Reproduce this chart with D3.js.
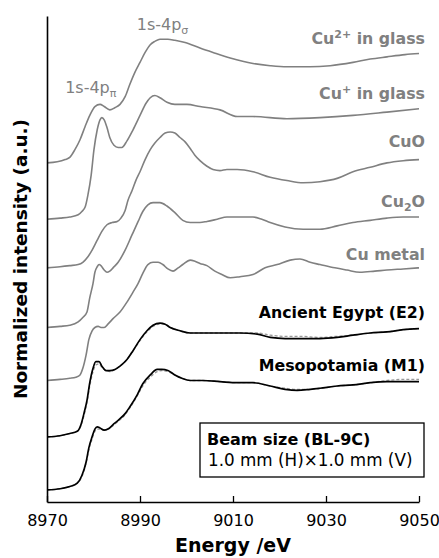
<!DOCTYPE html>
<html>
<head>
<meta charset="utf-8">
<script src="https://cdn.jsdelivr.net/npm/d3@7"></script>
<style>
  html, body { margin: 0; padding: 0; background: #fff; }
  svg { display: block; font-family: "DejaVu Sans", Verdana, sans-serif; }
</style>
</head>
<body>
<svg id="chart" width="439" height="558"></svg>
<script>
// ---------- data ----------
const energyTicks = [8970, 8990, 9010, 9030, 9050];

const seriesNames = ["Cu2+ in glass", "Cu+ in glass", "CuO", "Cu2O", "Cu metal", "Ancient Egypt (E2)", "Mesopotamia (M1)"];
const seriesOffsets = [3.06, 2.56, 2.12, 1.58, 1.10, 0.58, 0.10];
const seriesKinds = ["ref", "ref", "ref", "ref", "ref", "sample", "sample"];

// [energy (eV), normalized intensity]
const cu2Glass = [[8970.0,0.01],[8972.2,0.02],[8973.9,0.04],[8974.9,0.06],[8976.0,0.13],[8977.1,0.22],[8978.2,0.34],[8979.2,0.44],[8980.3,0.52],[8981.4,0.54],[8982.3,0.52],[8983.5,0.49],[8984.6,0.51],[8985.7,0.54],[8986.8,0.61],[8987.8,0.72],[8988.9,0.83],[8990.0,0.92],[8991.1,1.01],[8992.2,1.08],[8993.2,1.11],[8994.3,1.13],[8996.0,1.13],[8997.5,1.12],[8999.7,1.10],[9002.9,1.05],[9005.7,1.01],[9009.4,0.96],[9014.3,0.91],[9018.0,0.89],[9021.6,0.88],[9026.6,0.88],[9030.9,0.89],[9035.8,0.92],[9039.5,0.95],[9043.1,0.97],[9047.0,0.99],[9050.0,1.00]];

const cu1Glass = [[8970.0,0.00],[8972.8,0.01],[8974.9,0.02],[8976.7,0.04],[8977.5,0.07],[8978.2,0.11],[8978.8,0.22],[8979.5,0.40],[8980.1,0.63],[8980.8,0.81],[8981.4,0.90],[8981.8,0.92],[8982.3,0.90],[8982.9,0.83],[8983.5,0.74],[8984.4,0.67],[8985.3,0.65],[8986.1,0.65],[8987.2,0.71],[8988.5,0.81],[8990.0,0.94],[8991.3,1.05],[8992.2,1.10],[8993.2,1.12],[8994.3,1.10],[8995.8,1.06],[8997.5,1.04],[9000.1,1.04],[9002.9,1.02],[9007.2,0.99],[9010.9,0.93],[9014.3,0.93],[9021.6,0.91],[9028.7,0.92],[9035.8,0.94],[9043.1,0.97],[9050.0,1.00]];

const cuO = [[8970.0,0.00],[8972.8,0.01],[8974.9,0.02],[8976.7,0.03],[8977.7,0.05],[8978.8,0.10],[8979.7,0.16],[8980.8,0.25],[8981.8,0.33],[8982.9,0.39],[8984.0,0.41],[8985.1,0.42],[8985.9,0.45],[8986.8,0.52],[8987.4,0.61],[8988.3,0.70],[8989.1,0.79],[8990.0,0.87],[8991.1,0.98],[8992.2,1.07],[8993.2,1.13],[8994.3,1.18],[8995.4,1.22],[8996.5,1.23],[8997.5,1.22],[8998.6,1.18],[8999.7,1.14],[9000.8,1.08],[9001.8,1.02],[9002.9,0.97],[9004.4,0.92],[9005.7,0.89],[9007.2,0.88],[9008.7,0.89],[9010.9,0.89],[9014.3,0.87],[9018.0,0.82],[9021.6,0.79],[9025.1,0.77],[9028.7,0.78],[9032.4,0.81],[9035.8,0.87],[9039.5,0.91],[9043.1,0.95],[9046.6,0.97],[9050.0,0.98]];

const cu2O = [[8970.0,0.00],[8972.8,0.01],[8974.9,0.02],[8976.7,0.05],[8977.7,0.09],[8978.6,0.14],[8979.2,0.27],[8979.9,0.40],[8980.3,0.50],[8980.8,0.55],[8981.2,0.57],[8981.6,0.56],[8982.3,0.52],[8982.9,0.50],[8983.5,0.51],[8984.2,0.54],[8985.3,0.59],[8986.8,0.70],[8988.3,0.84],[8989.6,0.96],[8990.6,1.05],[8991.7,1.11],[8992.8,1.13],[8994.3,1.13],[8995.8,1.10],[8997.5,1.04],[8999.2,0.97],[9000.8,0.95],[9002.9,0.95],[9004.4,0.96],[9006.6,0.98],[9008.7,1.00],[9011.5,1.00],[9014.3,1.00],[9016.2,0.98],[9018.0,0.95],[9021.2,0.91],[9025.1,0.89],[9028.7,0.89],[9032.4,0.92],[9035.8,0.95],[9039.5,0.97],[9043.1,0.99],[9046.6,1.00],[9050.0,1.00]];

const cuMetal = [[8970.0,0.00],[8972.8,0.01],[8974.9,0.02],[8976.2,0.03],[8977.1,0.05],[8977.7,0.11],[8978.4,0.23],[8979.0,0.37],[8979.7,0.45],[8980.3,0.48],[8981.0,0.49],[8981.6,0.48],[8982.3,0.48],[8983.1,0.51],[8984.2,0.56],[8985.7,0.62],[8987.2,0.71],[8988.5,0.80],[8989.6,0.88],[8990.6,0.97],[8991.7,1.05],[8992.8,1.07],[8993.9,1.07],[8994.9,1.05],[8996.0,1.01],[8997.1,0.99],[8998.2,1.02],[8999.2,1.05],[9000.8,1.09],[9001.8,1.08],[9002.9,1.06],[9004.4,1.04],[9006.1,0.99],[9007.6,0.96],[9009.4,0.93],[9011.5,0.94],[9014.3,0.96],[9016.9,1.02],[9019.5,1.05],[9022.3,1.09],[9024.4,1.10],[9026.6,1.07],[9028.7,1.05],[9031.9,1.02],[9034.5,1.00],[9037.3,0.98],[9040.5,0.99],[9043.1,1.00],[9046.6,1.01],[9050.0,1.02]];

const egypt = [[8970.0,0.01],[8972.8,0.02],[8974.9,0.04],[8976.5,0.06],[8977.3,0.12],[8978.0,0.23],[8978.6,0.34],[8979.2,0.50],[8979.9,0.63],[8980.5,0.69],[8981.2,0.69],[8981.8,0.65],[8982.7,0.61],[8983.5,0.61],[8984.6,0.62],[8985.7,0.65],[8987.2,0.71],[8988.5,0.79],[8990.0,0.89],[8991.5,0.97],[8992.8,1.02],[8994.3,1.04],[8995.4,1.03],[8996.5,1.00],[8998.6,0.97],[9000.8,0.95],[9002.9,0.95],[9007.2,0.95],[9011.5,0.95],[9015.2,0.94],[9018.0,0.91],[9021.2,0.90],[9024.4,0.90],[9028.7,0.90],[9032.4,0.91],[9035.8,0.93],[9039.5,0.95],[9043.1,0.96],[9046.6,0.98],[9050.0,0.99]];

const egyptFit = [[8970.0,0.01],[8972.8,0.02],[8974.9,0.04],[8976.5,0.06],[8977.3,0.11],[8978.0,0.21],[8978.6,0.32],[8979.2,0.47],[8979.9,0.60],[8980.5,0.66],[8981.2,0.67],[8981.8,0.64],[8982.7,0.61],[8983.5,0.60],[8984.6,0.62],[8985.7,0.65],[8987.2,0.71],[8988.5,0.79],[8990.0,0.88],[8991.5,0.96],[8992.8,1.01],[8994.3,1.03],[8995.4,1.03],[8996.5,1.00],[8998.6,0.97],[9000.8,0.95],[9002.9,0.95],[9007.2,0.95],[9011.5,0.95],[9015.2,0.95],[9018.0,0.93],[9021.2,0.92],[9024.4,0.92],[9028.7,0.91],[9032.4,0.92],[9035.8,0.93],[9039.5,0.95],[9043.1,0.96],[9046.6,0.98],[9050.0,0.99]];

const meso = [[8970.0,0.01],[8972.8,0.02],[8974.9,0.04],[8976.5,0.07],[8977.5,0.14],[8978.4,0.26],[8979.0,0.39],[8979.7,0.49],[8980.3,0.56],[8980.8,0.58],[8981.4,0.57],[8982.3,0.55],[8983.1,0.56],[8984.2,0.60],[8985.3,0.64],[8986.8,0.70],[8987.8,0.76],[8989.4,0.87],[8990.6,0.97],[8992.2,1.05],[8993.7,1.10],[8994.7,1.10],[8996.0,1.09],[8997.5,1.05],[8999.0,1.02],[9000.8,1.00],[9003.5,1.00],[9007.2,0.99],[9010.9,0.98],[9014.3,0.98],[9018.0,0.95],[9021.2,0.92],[9023.8,0.91],[9026.6,0.92],[9028.7,0.93],[9032.4,0.95],[9035.8,0.96],[9039.5,0.98],[9043.1,0.99],[9046.6,0.99],[9050.0,0.99]];

const mesoFit = [[8970.0,0.01],[8972.8,0.02],[8974.9,0.04],[8976.5,0.07],[8977.5,0.13],[8978.4,0.25],[8979.0,0.37],[8979.7,0.47],[8980.3,0.54],[8980.8,0.56],[8981.4,0.56],[8982.3,0.55],[8983.1,0.56],[8984.2,0.59],[8985.3,0.63],[8986.8,0.69],[8987.8,0.75],[8989.4,0.86],[8990.6,0.95],[8992.2,1.03],[8993.7,1.08],[8994.7,1.09],[8996.0,1.08],[8997.5,1.05],[8999.0,1.02],[9000.8,1.00],[9003.5,1.00],[9007.2,0.99],[9010.9,0.98],[9014.3,0.98],[9018.0,0.95],[9021.2,0.93],[9023.8,0.92],[9026.6,0.92],[9028.7,0.93],[9032.4,0.95],[9035.8,0.96],[9039.5,0.98],[9043.1,1.00],[9046.6,1.01],[9050.0,1.01]];

const seriesData = [cu2Glass, cu1Glass, cuO, cu2O, cuMetal, egypt, meso];
const fitData = [null, null, null, null, null, egyptFit, mesoFit];

const peakLabels = [
  { main: "1s-4p", sub: "\u03c0", energy: 8973.9, level: 3.70 },
  { main: "1s-4p", sub: "\u03c3", energy: 8989.3, level: 4.27 }
];
const beamTitle = "Beam size (BL-9C)";
const beamText = "1.0 mm (H)\u00d71.0 mm (V)";

// ---------- layout ----------
const svg = d3.select("#chart");
const x = d3.scaleLinear().domain([8970, 9050]).range([47, 419]);
const y = d3.scaleLinear().domain([0, 4.4]).range([502, 16]);
const grey = "#808080";

const line = d3.line().x(d => x(d[0])).y(d => y(d[1])).curve(d3.curveMonotoneX);

// curves
seriesData.forEach((s, i) => {
  const off = seriesOffsets[i];
  const shifted = s.map(d => [d[0], d[1] + off]);
  if (fitData[i]) {
    svg.append("path")
      .attr("d", line(fitData[i].map(d => [d[0], d[1] + off])))
      .attr("fill", "none").attr("stroke", "#9a9a9a")
      .attr("stroke-width", 1.3).attr("stroke-dasharray", "3,2");
  }
  svg.append("path")
    .attr("d", line(shifted))
    .attr("fill", "none")
    .attr("stroke", seriesKinds[i] === "ref" ? grey : "#000")
    .attr("stroke-width", seriesKinds[i] === "ref" ? 1.6 : 1.7)
    .attr("stroke-linejoin", "round");
});

// series labels
seriesNames.forEach((name, i) => {
  const t = svg.append("text")
    .attr("x", 425).attr("y", y(seriesOffsets[i] + 1.09))
    .attr("text-anchor", "end")
    .attr("font-size", 15.8).attr("font-weight", "bold")
    .attr("fill", seriesKinds[i] === "ref" ? grey : "#000");
  if (name === "Cu2+ in glass" || name === "Cu+ in glass") {
    const sup = name.startsWith("Cu2+") ? "2+" : "+";
    t.append("tspan").text("Cu");
    t.append("tspan").text(sup).attr("font-size", 11).attr("dy", -6);
    t.append("tspan").text(" in glass").attr("dy", 6);
  } else if (name === "Cu2O") {
    t.append("tspan").text("Cu");
    t.append("tspan").text("2").attr("font-size", 11).attr("dy", 4);
    t.append("tspan").text("O").attr("dy", -4);
  } else {
    t.text(name);
  }
});

// peak labels
peakLabels.forEach(p => {
  const t = svg.append("text")
    .attr("x", x(p.energy)).attr("y", y(p.level))
    .attr("font-size", 16).attr("fill", grey);
  t.append("tspan").text(p.main);
  t.append("tspan").text(p.sub).attr("font-size", 11).attr("dy", 4);
});

// axes
const xAxis = d3.axisBottom(x).tickValues(energyTicks).tickSizeInner(-6).tickSizeOuter(0).tickPadding(13).tickFormat(d3.format("d"));
const gx = svg.append("g").attr("transform", `translate(0,${y(0)})`).call(xAxis);
gx.select(".domain").attr("stroke", "#000").attr("stroke-width", 1.6);
gx.selectAll(".tick line").attr("stroke", "#000").attr("stroke-width", 1.3);
gx.selectAll(".tick text").attr("font-size", 16).attr("fill", "#000").attr("font-family", "DejaVu Sans, sans-serif");

const yAxis = d3.axisLeft(y).tickValues([]).tickSizeOuter(0);
const gy = svg.append("g").attr("transform", `translate(${x(8970)},0)`).call(yAxis);
gy.select(".domain").attr("stroke", "#000").attr("stroke-width", 1.6);

// axis titles
svg.append("text").attr("x", x(9010)).attr("y", 552)
  .attr("text-anchor", "middle").attr("font-size", 19).attr("font-weight", "bold")
  .text("Energy /eV");
svg.append("text").attr("transform", `translate(27,259) rotate(-90)`)
  .attr("text-anchor", "middle").attr("font-size", 18.5).attr("font-weight", "bold")
  .text("Normalized intensity (a.u.)");

// beam size box
const by = 423;
svg.append("rect").attr("x", 200).attr("y", by).attr("width", 224).attr("height", 54)
  .attr("fill", "#fff").attr("stroke", "#000").attr("stroke-width", 1.3);
svg.append("text").attr("x", 207).attr("y", by + 22).attr("font-size", 16).attr("font-weight", "bold").text(beamTitle);
svg.append("text").attr("x", 208).attr("y", by + 43).attr("font-size", 16.8).text(beamText);
</script>
</body>
</html>
